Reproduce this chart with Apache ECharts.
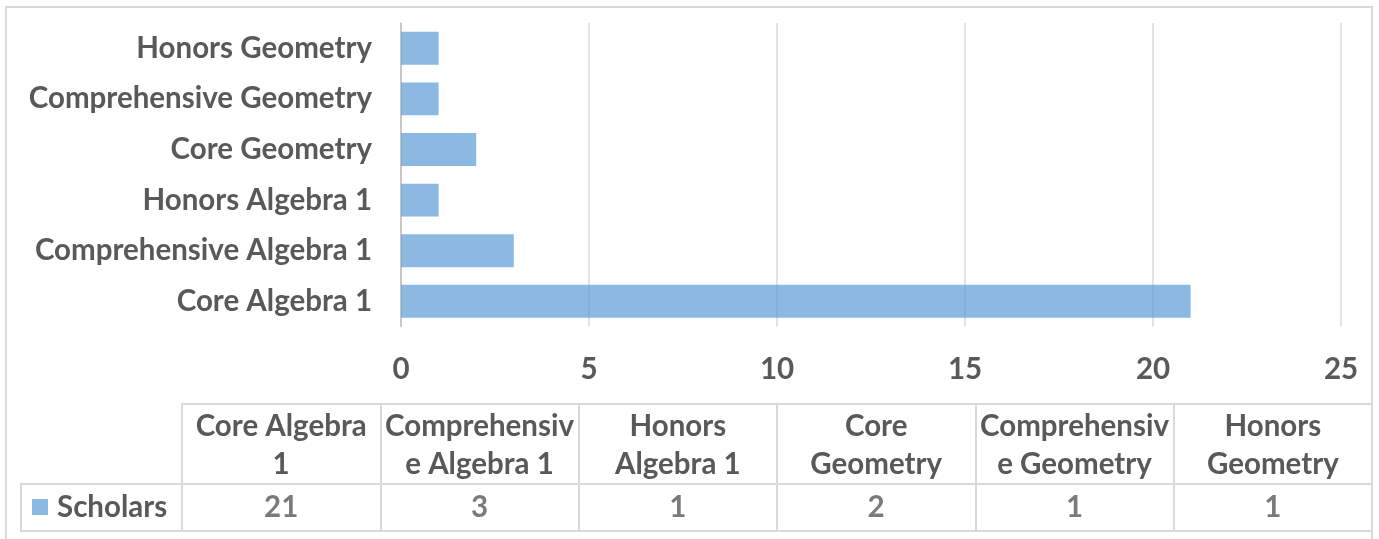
<!DOCTYPE html>
<html>
<head>
<meta charset="utf-8">
<script src="https://cdn.jsdelivr.net/npm/echarts@6/dist/echarts.min.js"></script>
<style>
html,body{margin:0;padding:0;background:#fff;}
#chart{width:1379px;height:539px;}
</style>
</head>
<body>
<div id="chart"></div>
<script>
const categories = ["Core Algebra 1", "Comprehensive Algebra 1", "Honors Algebra 1", "Core Geometry", "Comprehensive Geometry", "Honors Geometry"];
const tableHeaders = ["Core Algebra\n1", "Comprehensiv\ne Algebra 1", "Honors\nAlgebra 1", "Core\nGeometry", "Comprehensiv\ne Geometry", "Honors\nGeometry"];
const seriesName = "Scholars";
const scholars = [21, 3, 1, 2, 1, 1];
const xTicks = [0, 5, 10, 15, 20, 25];

const FONT = 'Lato';
const TXT = '#595959';
const LINE = '#D9D9D9';
const FS = 29.5;

const chart = echarts.init(document.getElementById('chart'), null, {renderer: 'canvas'});
chart.setOption({
  animation: false,
  backgroundColor: '#fff',
  textStyle: {fontFamily: FONT},
  graphic: [{
    type: 'rect', silent: true,
    shape: {x: 6, y: 7, width: 1366, height: 600},
    style: {fill: 'none', stroke: LINE, lineWidth: 2}
  }],
  legend: {
    data: [seriesName],
    left: 32, top: 492, padding: 0,
    itemWidth: 16, itemHeight: 16,
    icon: 'rect',
    textStyle: {fontFamily: FONT, fontSize: FS, fontWeight: 'bold', color: TXT, padding: [0, 0, 0, 4]}
  },
  grid: [
    {left: 401, right: 38, top: 23, height: 303.6},
    {left: 182, right: 7, top: 404, height: 80, show: true, borderColor: LINE, borderWidth: 2},
    {left: 182, right: 7, top: 484, height: 47, show: true, borderColor: LINE, borderWidth: 2},
    {left: 21, width: 161, top: 484, height: 47, show: true, borderColor: LINE, borderWidth: 2}
  ],
  xAxis: [
    {
      type: 'value', gridIndex: 0, min: xTicks[0], max: xTicks[xTicks.length - 1], interval: xTicks[1] - xTicks[0],
      axisLine: {show: false}, axisTick: {show: false},
      splitLine: {show: true, lineStyle: {color: LINE, width: 1.5}},
      axisLabel: {margin: 28, fontSize: FS, fontWeight: 'bold', color: TXT, fontFamily: FONT}
    },
    {
      type: 'category', gridIndex: 1, data: tableHeaders, position: 'bottom',
      axisLine: {show: false}, axisTick: {show: false},
      splitLine: {show: true, interval: 0, lineStyle: {color: LINE, width: 2}},
      axisLabel: {inside: true, margin: 39, verticalAlign: 'middle', interval: 0, lineHeight: 38,
        fontSize: FS, fontWeight: 'bold', color: TXT, fontFamily: FONT, align: 'center'}
    },
    {
      type: 'category', gridIndex: 2, data: categories,
      axisLine: {show: false}, axisTick: {show: false}, axisLabel: {show: false},
      splitLine: {show: true, interval: 0, lineStyle: {color: LINE, width: 2}}
    },
    {type: 'value', gridIndex: 3, show: false}
  ],
  yAxis: [
    {
      type: 'category', gridIndex: 0, data: categories,
      axisLine: {show: true, lineStyle: {color: '#BFBFBF', width: 1.5}},
      axisTick: {show: false},
      axisLabel: {margin: 29, fontSize: FS, fontWeight: 'bold', color: TXT, fontFamily: FONT}
    },
    {type: 'value', gridIndex: 1, show: false},
    {type: 'value', gridIndex: 2, min: 0, max: 1, show: false},
    {type: 'value', gridIndex: 3, show: false}
  ],
  series: [
    {
      name: seriesName, type: 'bar', xAxisIndex: 0, yAxisIndex: 0,
      data: scholars, barCategoryGap: '35%',
      itemStyle: {color: 'rgba(91,155,213,0.7)'}
    },
    {
      name: 'tableValues', type: 'scatter', xAxisIndex: 2, yAxisIndex: 2,
      symbolSize: 0, silent: true,
      data: scholars.map((v, i) => [i, 0.5, v]),
      label: {show: true, position: 'inside', formatter: p => String(p.data[2]),
        fontSize: FS, fontWeight: 'bold', color: TXT, fontFamily: FONT}
    }
  ]
});
</script>
</body>
</html>
